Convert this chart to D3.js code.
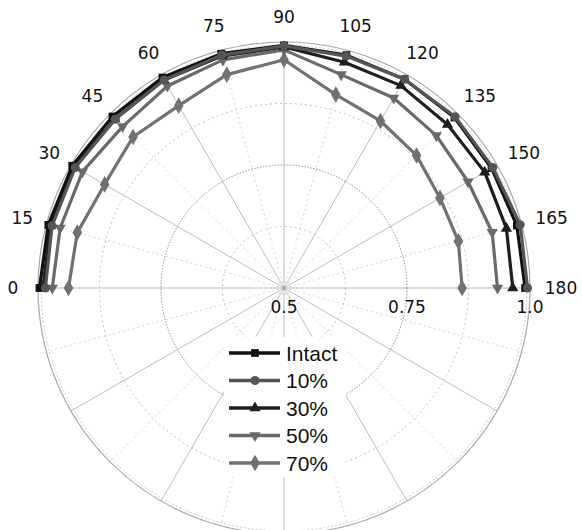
<!DOCTYPE html>
<html>
<head>
<meta charset="utf-8">
<script src="https://cdn.jsdelivr.net/npm/d3@7"></script>
<style>
  html, body { margin: 0; padding: 0; background: #fff; }
  svg { display: block; }
</style>
</head>
<body>
<svg id="chart" width="582" height="530"></svg>
<script>
// ---- data ----
const angles = [0, 15, 30, 45, 60, 75, 90, 105, 120, 135, 150, 165, 180];
const angleTicks = [0, 15, 30, 45, 60, 75, 90, 105, 120, 135, 150, 165, 180];
const radialTicks = [0.5, 0.75, 1.0];
const radialTickLabels = ["0.5", "0.75", "1.0"];
const seriesNames = ["Intact", "10%", "30%", "50%", "70%"];
const intact  = [0.997, 0.996, 0.997, 0.993, 0.994, 0.993, 0.993, 0.990, 0.990, 0.990, 0.987, 0.990, 0.990];
const pct10   = [0.985, 0.988, 0.990, 0.985, 0.988, 0.990, 0.992, 0.988, 0.990, 0.992, 0.990, 0.997, 0.995];
const pct30   = [0.990, 0.991, 0.992, 0.986, 0.988, 0.988, 0.990, 0.975, 0.975, 0.970, 0.971, 0.968, 0.965];
const pct50   = [0.971, 0.971, 0.973, 0.964, 0.974, 0.980, 0.984, 0.949, 0.946, 0.938, 0.932, 0.938, 0.934];
const pct70   = [0.938, 0.935, 0.921, 0.934, 0.928, 0.949, 0.964, 0.907, 0.892, 0.881, 0.866, 0.867, 0.862];
const seriesValues = [intact, pct10, pct30, pct50, pct70];

// ---- styles ----
const colors = ["#111111", "#555555", "#1e1e1e", "#6a6a6a", "#717171"];
const symbols = [d3.symbolSquare, d3.symbolCircle, d3.symbolTriangle, d3.symbolTriangle, d3.symbolDiamond];
const symbolRot = [0, 0, 0, 180, 0];
const symbolSize = [60, 64, 55, 55, 80];

const svg = d3.select("#chart");
const cx = 284, cy = 288, R = 246;
const g = svg.append("g").attr("transform", `translate(${cx},${cy})`);

const rScale = d3.scaleLinear().domain([0.5, 1.0]).range([0, R]);
const aScale = d3.scaleLinear().domain([0, 180]).range([-Math.PI / 2, Math.PI / 2]);
const px = (deg, r) => r * Math.sin(aScale(deg));
const py = (deg, r) => -r * Math.cos(aScale(deg));

// ---- grid ----
const spokeAngles = d3.range(0, 360, 15);
g.selectAll(".spoke").data(spokeAngles).enter().append("line")
  .attr("x1", 0).attr("y1", 0)
  .attr("x2", d => px(d, R)).attr("y2", d => py(d, R))
  .attr("stroke", d => (d % 180 === 0) ? "#dcdcdc" : (d % 30 === 0 ? "#bcbcbc" : "#d4d4d4"))
  .attr("stroke-width", d => (d % 180 === 0) ? 2 : 1)
  .attr("stroke-dasharray", d => d % 30 === 0 ? null : "2,3");

const circleVals = [0.625, 0.75, 0.875];
g.selectAll(".ring").data(circleVals).enter().append("circle")
  .attr("r", d => rScale(d)).attr("fill", "none")
  .attr("stroke", d => d === 0.75 ? "#8a8a8a" : "#bdbdbd")
  .attr("stroke-width", 1)
  .attr("stroke-dasharray", d => d === 0.75 ? "1.5,1.5" : "2,3");
g.append("circle").attr("r", rScale(1.0)).attr("fill", "none")
  .attr("stroke", "#a8a8a8").attr("stroke-width", 1.2);
g.append("circle").attr("r", rScale(1.0) - 3).attr("fill", "none")
  .attr("stroke", "#c8c8c8").attr("stroke-width", 1).attr("stroke-dasharray", "2,2");
g.append("circle").attr("r", 2).attr("fill", "#aaa");

// ---- series ----
const lineGen = d3.lineRadial()
  .angle((d, i) => aScale(angles[i]))
  .radius(d => rScale(d));

const order = [4, 3, 2, 0, 1];
order.forEach(si => {
  const vals = seriesValues[si];
  const sg = g.append("g");
  sg.append("path").datum(vals)
    .attr("d", lineGen)
    .attr("fill", "none")
    .attr("stroke", colors[si])
    .attr("stroke-width", 3.2)
    .attr("stroke-linejoin", "round");
  sg.selectAll("path.m").data(vals).enter().append("path")
    .attr("class", "m")
    .attr("d", d3.symbol().type(symbols[si]).size(symbolSize[si]))
    .attr("transform", (d, i) => `translate(${px(angles[i], rScale(d))},${py(angles[i], rScale(d))}) rotate(${symbolRot[si]})`)
    .attr("fill", colors[si]);
});

// ---- angle labels ----
g.selectAll(".alab").data(angleTicks).enter().append("text")
  .attr("x", d => px(d, 271) + (String(d).length > 2 ? -Math.cos(d * Math.PI / 180) * 6 : 0))
  .attr("y", d => py(d, 271))
  .attr("text-anchor", "middle")
  .attr("dominant-baseline", "central")
  .attr("font-family", "DejaVu Sans, Verdana, sans-serif")
  .attr("font-size", 17)
  .attr("fill", "#111")
  .text(d => d);

// ---- radial labels ----
g.selectAll(".rlab").data(radialTicks).enter().append("text")
  .attr("x", d => rScale(d))
  .attr("y", 25)
  .attr("text-anchor", "middle")
  .attr("font-family", "DejaVu Sans, Verdana, sans-serif")
  .attr("font-size", 17)
  .attr("fill", "#111")
  .text((d, i) => radialTickLabels[i]);

// ---- legend ----
const lg = svg.append("g").attr("transform", "translate(224,337)");
lg.append("rect").attr("x", 0).attr("y", 0).attr("width", 122).attr("height", 140).attr("fill", "#fff");
seriesNames.forEach((name, i) => {
  const y = 16 + i * 27.5;
  lg.append("line").attr("x1", 5).attr("x2", 56).attr("y1", y).attr("y2", y)
    .attr("stroke", colors[i]).attr("stroke-width", 3.5);
  lg.append("path")
    .attr("d", d3.symbol().type(symbols[i]).size(symbolSize[i]))
    .attr("transform", `translate(31,${y}) rotate(${symbolRot[i]})`)
    .attr("fill", colors[i]);
  lg.append("text").attr("x", 62).attr("y", y)
    .attr("dominant-baseline", "central")
    .attr("font-family", "Liberation Sans, Arial, sans-serif")
    .attr("font-size", 21)
    .attr("fill", "#111")
    .text(name);
});
</script>
</body>
</html>
